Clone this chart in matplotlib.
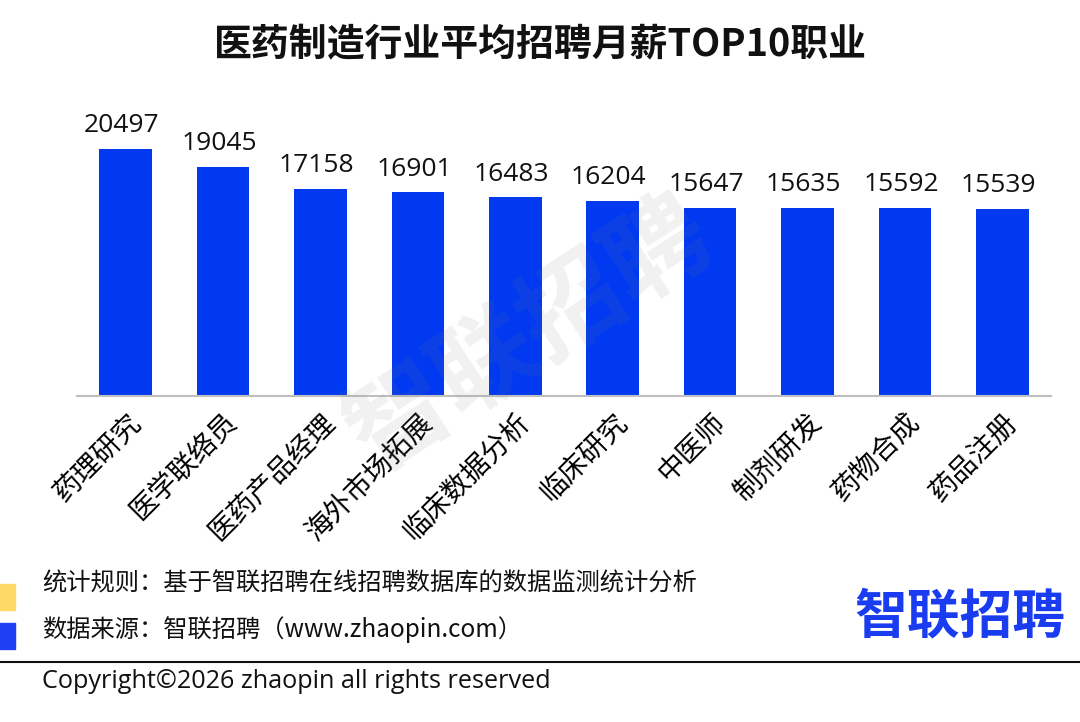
import matplotlib.pyplot as plt
from matplotlib.patches import Rectangle

plt.rcParams['font.family'] = ['Noto Sans CJK SC', 'DejaVu Sans']

# 数据
jobs = ['药理研究', '医学联络员', '医药产品经理', '海外市场拓展', '临床数据分析',
        '临床研究', '中医师', '制剂研发', '药物合成', '药品注册']
salary = [20497, 19045, 17158, 16901, 16483, 16204, 15647, 15635, 15592, 15539]

bar_color = '#0039F0'

fig = plt.figure(figsize=(10.8, 7.22), dpi=100)
ax = fig.add_axes([77 / 1080, 1 - 396 / 722, (1051 - 77) / 1080, (396 - 131) / 722])

x = range(len(jobs))
ax.bar(x, salary, width=0.54, color=bar_color, zorder=2)
for xi, v in zip(x, salary):
    ax.text(xi - 0.04, v + 900, str(v), ha='center', va='bottom', fontsize=19,
            color='#111111', family=['Open Sans', 'DejaVu Sans'])

ax.set_xlim(-0.5, len(jobs) - 0.5)
ax.set_ylim(0, 22000)
ax.set_xticks(list(x))
ax.set_xticklabels(jobs, rotation=45, ha='right', rotation_mode='anchor', fontsize=20)
ax.tick_params(axis='x', length=0, pad=8)
ax.set_yticks([])
for s in ['top', 'right', 'left']:
    ax.spines[s].set_visible(False)
ax.spines['bottom'].set_color('#bfbfbf')
ax.spines['bottom'].set_linewidth(1.5)

# 标题
fig.text(0.5, 1 - 45 / 722, '医药制造行业平均招聘月薪TOP10职业', ha='center', va='center',
         fontsize=27.3, fontweight='bold', color='#111111')

# 水印
fig.text(530 / 1080, 1 - 335 / 722, '智联招聘', ha='center', va='center', fontsize=74,
         fontweight='bold', color='#808080', alpha=0.11, rotation=33, zorder=5)

# 底部说明
fig.patches.append(Rectangle((0, 1 - 610 / 722), 15 / 1080, 26 / 722, transform=fig.transFigure,
                             color='#FFD966', zorder=3))
fig.patches.append(Rectangle((0, 1 - 649 / 722), 15 / 1080, 26 / 722, transform=fig.transFigure,
                             color='#1F3FF5', zorder=3))
fig.text(42 / 1080, 1 - 584 / 722, '统计规则：基于智联招聘在线招聘数据库的数据监测统计分析',
         ha='left', va='center', fontsize=17.5, color='#111111')
fig.text(42 / 1080, 1 - 630 / 722, '数据来源：智联招聘（www.zhaopin.com）',
         ha='left', va='center', fontsize=17.5, color='#111111')
fig.add_artist(plt.Line2D([0, 1], [1 - 662 / 722, 1 - 662 / 722], transform=fig.transFigure,
                          color='#111111', linewidth=1.5))
fig.text(42 / 1080, 1 - 682 / 722, 'Copyright©2026 zhaopin all rights reserved',
         ha='left', va='center', fontsize=18.2, color='#111111', family=['Open Sans', 'DejaVu Sans'])

# 标志
fig.text(960 / 1080, 1 - 617 / 722, '智联招聘', ha='center', va='center', fontsize=38,
         fontweight='bold', color='#1A3CF0')

fig.savefig('out.png', dpi=100)
